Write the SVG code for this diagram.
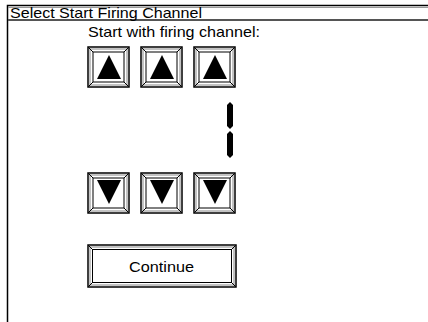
<svg xmlns="http://www.w3.org/2000/svg" width="428" height="322" viewBox="0 0 428 322">
<defs>
<style>
text{font-family:"Liberation Sans",Arial,sans-serif;fill:#000;font-size:15px}
.ob{fill:#fff;stroke:#000;stroke-width:1.5}
.ib{fill:none;stroke:#888;stroke-width:1}
.in{fill:#fff;stroke:#000;stroke-width:1}
.bv{stroke:#000;stroke-width:1}
.tri{fill:#000}
.seg{fill:#000}
</style>
<g id="btn">
<rect class="ob" x="0" y="0" width="41" height="40"/>
<rect class="ib" x="2" y="2" width="37" height="36"/>
<rect class="in" x="5" y="5" width="31" height="30"/>
<path class="bv" d="M0.5 0.5L5 5M40.5 0.5L36 5M0.5 39.5L5 35M40.5 39.5L36 35"/>
</g>
</defs>
<rect width="428" height="322" fill="#fff"/>
<g id="frame">
<path d="M7.5 322V5.5H428" fill="none" stroke="#000" stroke-width="1.5"/>
<line x1="8" y1="7.5" x2="428" y2="7.5" stroke="#999" stroke-width="1"/>
<line x1="8" y1="20" x2="428" y2="20" stroke="#555" stroke-width="2"/>
<text x="10" y="18" font-size="14" textLength="192" lengthAdjust="spacingAndGlyphs">Select Start Firing Channel</text>
</g>
<g id="label"><text x="88" y="37" textLength="172" lengthAdjust="spacingAndGlyphs">Start with firing channel:</text></g>
<g id="up1"><use href="#btn" x="88" y="47"/><polygon class="tri" points="109,55 97,79 121,79"/></g>
<g id="up2"><use href="#btn" x="141" y="47"/><polygon class="tri" points="162,55 150,79 174,79"/></g>
<g id="up3"><use href="#btn" x="194" y="47"/><polygon class="tri" points="215,55 203,79 227,79"/></g>
<g id="digit">
<polygon class="seg" points="230,102 233,105 233,126 230,129 227,126 227,105"/>
<polygon class="seg" points="230,131 233,134 233,155 230,158 227,155 227,134"/>
</g>
<g id="down1"><use href="#btn" x="88" y="173"/><polygon class="tri" points="97,180 121,180 109,204"/></g>
<g id="down2"><use href="#btn" x="141" y="173"/><polygon class="tri" points="150,180 174,180 162,204"/></g>
<g id="down3"><use href="#btn" x="194" y="173"/><polygon class="tri" points="203,180 227,180 215,204"/></g>
<g id="continue">
<rect class="ob" x="88" y="245" width="148" height="42"/>
<rect class="ib" x="90" y="247" width="144" height="38"/>
<rect class="in" x="92.5" y="249.5" width="139" height="33"/>
<path class="bv" d="M88.5 245.5L92.5 249.5M235.5 245.5L231.5 249.5M88.5 286.5L92.5 282.5M235.5 286.5L231.5 282.5"/>
<text x="129" y="272" textLength="65" lengthAdjust="spacingAndGlyphs">Continue</text>
</g>
</svg>
